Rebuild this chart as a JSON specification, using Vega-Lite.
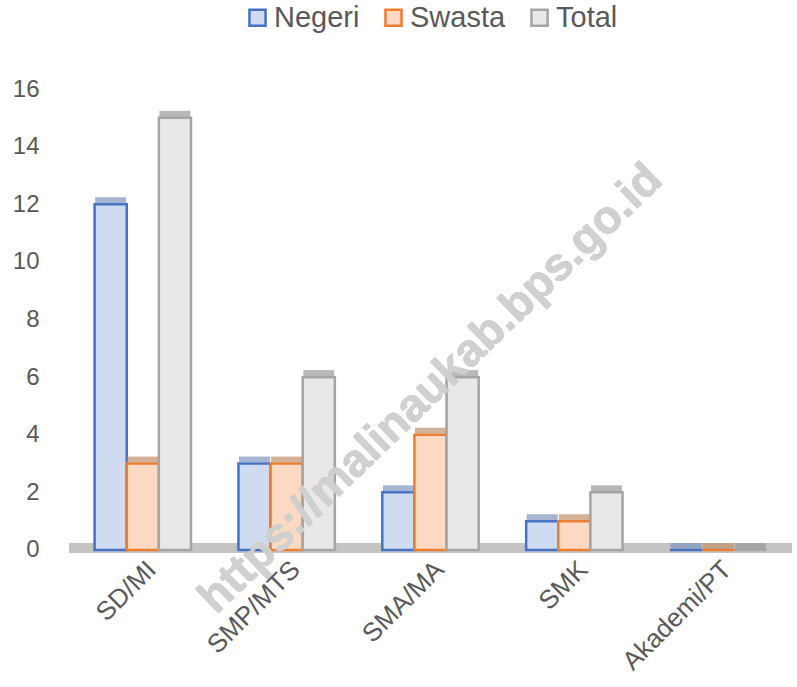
{
  "$schema": "https://vega.github.io/schema/vega-lite/v6.json",
  "autosize": {"type": "fit", "contains": "padding"},
  "width": 797,
  "height": 687,
  "padding": {"left": 12, "right": 0, "top": 3, "bottom": 12},
  "config": {
    "view": {"stroke": null},
    "font": "Liberation Sans",
    "axis": {"labelColor": "#595959", "labelFont": "Liberation Sans", "grid": false, "domain": false, "ticks": false},
    "legend": {"labelColor": "#595959", "labelFont": "Liberation Sans", "layout": {"top": {"anchor": "middle"}}}
  },
  "data": {
    "values": [
      {"jenjang": "SD/MI", "status": "Negeri", "jumlah": 12},
      {"jenjang": "SD/MI", "status": "Swasta", "jumlah": 3},
      {"jenjang": "SD/MI", "status": "Total", "jumlah": 15},
      {"jenjang": "SMP/MTS", "status": "Negeri", "jumlah": 3},
      {"jenjang": "SMP/MTS", "status": "Swasta", "jumlah": 3},
      {"jenjang": "SMP/MTS", "status": "Total", "jumlah": 6},
      {"jenjang": "SMA/MA", "status": "Negeri", "jumlah": 2},
      {"jenjang": "SMA/MA", "status": "Swasta", "jumlah": 4},
      {"jenjang": "SMA/MA", "status": "Total", "jumlah": 6},
      {"jenjang": "SMK", "status": "Negeri", "jumlah": 1},
      {"jenjang": "SMK", "status": "Swasta", "jumlah": 1},
      {"jenjang": "SMK", "status": "Total", "jumlah": 2},
      {"jenjang": "Akademi/PT", "status": "Negeri", "jumlah": 0},
      {"jenjang": "Akademi/PT", "status": "Swasta", "jumlah": 0},
      {"jenjang": "Akademi/PT", "status": "Total", "jumlah": 0}
    ]
  },
  "encoding": {
    "y": {
      "type": "quantitative",
      "scale": {"domain": [-0.07, 17.32], "nice": false},
      "axis": {"values": [0, 2, 4, 6, 8, 10, 12, 14, 16], "labelFontSize": 24, "title": null, "labelPadding": 30}
    }
  },
  "layer": [
    {
      "mark": {"type": "rule", "color": "#c4c4c4", "strokeWidth": 9},
      "encoding": {"y": {"datum": 0.08}}
    },
    {
      "mark": {"type": "bar", "strokeWidth": 2.5},
      "encoding": {
        "x": {
          "field": "jenjang", "type": "nominal", "sort": null, "title": null,
          "scale": {"paddingInner": 0.33, "paddingOuter": 0.178},
          "axis": {"labelAngle": -45, "labelFontSize": 26, "labelPadding": 4}
        },
        "y": {"field": "jumlah"},
        "xOffset": {"field": "status", "type": "nominal"},
        "fill": {
          "field": "status", "type": "nominal",
          "scale": {"domain": ["Negeri", "Swasta", "Total"], "range": ["#cfdbf1", "#fbd9c2", "#e8e8e8"]},
          "legend": {
            "orient": "top", "title": null, "symbolType": "square", "symbolSize": 260,
            "labelFontSize": 29, "columnPadding": 19, "symbolStrokeWidth": 2.5, "labelOffset": 2
          }
        },
        "stroke": {
          "field": "status", "type": "nominal",
          "scale": {"domain": ["Negeri", "Swasta", "Total"], "range": ["#4472c4", "#ed7d31", "#a5a5a5"]},
          "legend": null
        }
      }
    },
    {
      "mark": {"type": "tick", "thickness": 6, "size": 31, "yOffset": -4},
      "encoding": {
        "x": {"field": "jenjang", "type": "nominal", "sort": null},
        "y": {"field": "jumlah"},
        "xOffset": {"field": "status", "type": "nominal"},
        "color": {
          "field": "status", "type": "nominal",
          "scale": {"domain": ["Negeri", "Swasta", "Total"], "range": ["#7f95bd", "#c0916b", "#9a9a9a"]},
          "legend": null
        }
      }
    },
    {
      "mark": {"type": "text", "angle": -44, "fontSize": 46, "fontWeight": "bold", "color": "#d0d0d0", "opacity": 0.38, "text": "https://malinaukab.bps.go.id"},
      "encoding": {
        "x": {"datum": "SMA/MA"},
        "y": {"datum": 5.6}
      }
    }
  ]
}
